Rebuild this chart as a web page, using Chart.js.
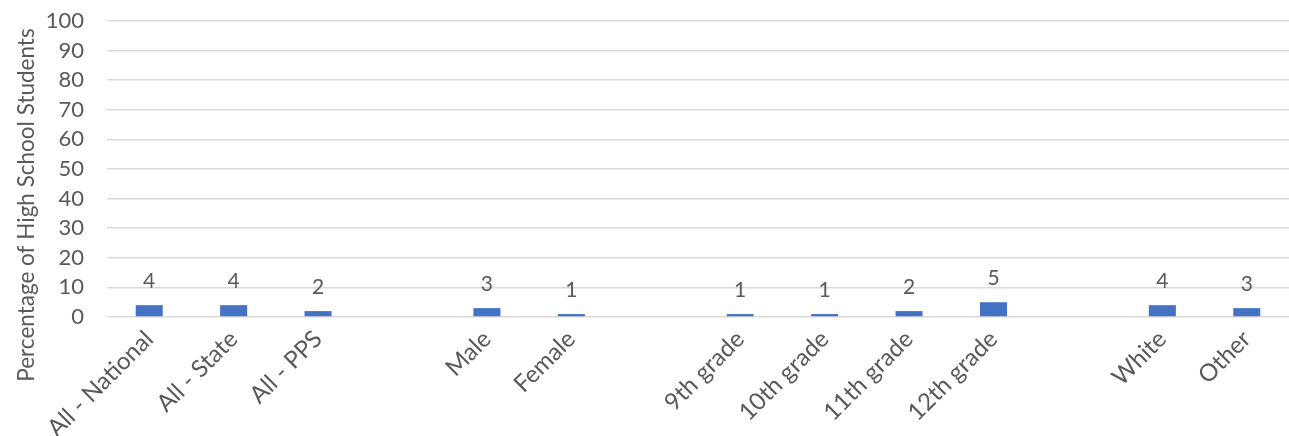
<!DOCTYPE html>
<html>
<head>
<meta charset="utf-8">
<script src="https://cdn.jsdelivr.net/npm/chart.js@4/dist/chart.umd.min.js"></script>
<style>
  html, body { margin: 0; padding: 0; background: #ffffff; }
  #wrap { width: 1289px; height: 436px; position: relative; }
</style>
</head>
<body>
<div id="wrap"><canvas id="chart"></canvas></div>
<script>
// Groups are separated by empty categories
const categories = ['All - National', 'All - State', 'All - PPS', '', 'Male', 'Female', '',
  '9th grade', '10th grade', '11th grade', '12th grade', '', 'White', 'Other'];
const percentages = [4, 4, 2, null, 3, 1, null, 1, 1, 2, 5, null, 4, 3];
const yTicks = [0, 10, 20, 30, 40, 50, 60, 70, 80, 90, 100];
const yTitle = 'Percentage of High School Students';

const textColor = '#595959';
const fontFamily = 'Lato, "Open Sans", "Liberation Sans", sans-serif';

// Writes each bar's value above it
const valueLabels = {
  id: 'valueLabels',
  afterDatasetsDraw(chart) {
    const ctx = chart.ctx;
    const meta = chart.getDatasetMeta(0);
    ctx.save();
    ctx.fillStyle = textColor;
    ctx.font = '21px ' + fontFamily;
    ctx.textAlign = 'center';
    ctx.textBaseline = 'bottom';
    meta.data.forEach((bar, i) => {
      const v = percentages[i];
      if (v === null) return;
      ctx.fillText(String(v), bar.x, bar.y - 13);
    });
    ctx.restore();
  }
};

// Vertical axis title, centred a little above the middle of the canvas
const axisTitle = {
  id: 'axisTitle',
  afterDraw(chart) {
    const ctx = chart.ctx;
    ctx.save();
    ctx.translate(27, 205);
    ctx.rotate(-Math.PI / 2);
    ctx.fillStyle = textColor;
    ctx.font = '22.5px ' + fontFamily;
    ctx.textAlign = 'center';
    ctx.textBaseline = 'middle';
    ctx.fillText(yTitle, 0, 0);
    ctx.restore();
  }
};

new Chart(document.getElementById('chart'), {
  type: 'bar',
  data: {
    labels: categories,
    datasets: [{
      data: percentages,
      backgroundColor: '#4472C4',
      barPercentage: 0.32,
      categoryPercentage: 1.0
    }]
  },
  options: {
    responsive: true,
    maintainAspectRatio: false,
    animation: false,
    layout: { padding: 0 },
    plugins: { legend: { display: false }, tooltip: { enabled: false } },
    scales: {
      x: {
        grid: { display: false },
        border: { display: false },
        ticks: {
          color: textColor,
          font: { family: fontFamily, size: 24 },
          maxRotation: 45,
          minRotation: 45,
          autoSkip: false,
          padding: 0
        },
        afterFit(scale) { scale.height = 119; }
      },
      y: {
        min: 0,
        max: 100,
        afterBuildTicks(scale) { scale.ticks = yTicks.map(v => ({ value: v })); },
        grid: { color: '#D9D9D9', lineWidth: 1.5, drawTicks: false },
        border: { display: false },
        ticks: {
          color: textColor,
          font: { family: fontFamily, size: 22 },
          padding: 23,
          autoSkip: false
        },
        afterFit(scale) {
          scale.width = 107;
          scale.paddingTop = 21;
          scale.paddingBottom = 0;
        }
      }
    }
  },
  plugins: [valueLabels, axisTitle]
});
</script>
</body>
</html>
